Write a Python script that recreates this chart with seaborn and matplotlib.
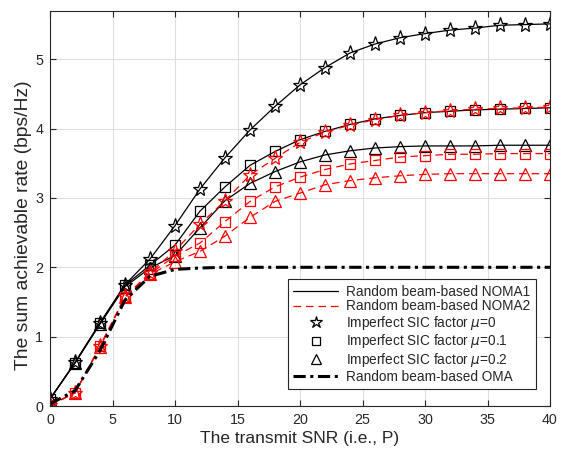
import matplotlib
matplotlib.use("Agg")
import numpy as np
import pandas as pd
import matplotlib.pyplot as plt
import seaborn as sns
from matplotlib.lines import Line2D

# transmit SNR grid
snr = [0, 2, 4, 6, 8, 10, 12, 14, 16, 18, 20, 22, 24, 26, 28, 30, 32, 34, 36, 38, 40]

# Random beam-based NOMA1 (black, solid)
noma1_mu0 = [0.10, 0.63, 1.20, 1.75, 2.12, 2.60, 3.13, 3.58, 3.98, 4.32, 4.63,
             4.88, 5.09, 5.22, 5.31, 5.37, 5.42, 5.45, 5.49, 5.50, 5.51]
noma1_mu01 = [0.10, 0.62, 1.19, 1.74, 2.03, 2.32, 2.81, 3.16, 3.47, 3.67, 3.84,
              3.96, 4.06, 4.14, 4.19, 4.23, 4.25, 4.27, 4.28, 4.29, 4.30]
noma1_mu02 = [0.10, 0.62, 1.18, 1.72, 1.99, 2.17, 2.57, 2.96, 3.21, 3.38, 3.52,
              3.62, 3.68, 3.72, 3.74, 3.75, 3.75, 3.75, 3.76, 3.76, 3.76]

# Random beam-based NOMA2 (red, dashed)
noma2_mu0 = [0.01, 0.19, 0.86, 1.58, 1.92, 2.24, 2.62, 2.96, 3.33, 3.57, 3.80,
             3.95, 4.05, 4.13, 4.19, 4.23, 4.26, 4.28, 4.29, 4.30, 4.31]
noma2_mu01 = [0.01, 0.19, 0.86, 1.57, 1.91, 2.16, 2.35, 2.66, 2.95, 3.16, 3.30,
              3.41, 3.49, 3.54, 3.59, 3.61, 3.63, 3.63, 3.64, 3.64, 3.64]
noma2_mu02 = [0.01, 0.19, 0.85, 1.57, 1.90, 2.08, 2.23, 2.45, 2.72, 2.95, 3.07,
              3.19, 3.25, 3.29, 3.32, 3.34, 3.35, 3.35, 3.35, 3.35, 3.35]

# Random beam-based OMA
oma = [0.03, 0.22, 0.80, 1.53, 1.87, 1.97, 1.99, 2.00, 2.00, 2.00, 2.00,
       2.00, 2.00, 2.00, 2.00, 2.00, 2.00, 2.00, 2.00, 2.00, 2.00]

sns.set_theme(style="ticks")
plt.rcParams['font.family'] = ['Liberation Sans', 'DejaVu Sans']
plt.rcParams['mathtext.fontset'] = 'dejavusans'

fig = plt.figure(figsize=(5.66, 4.55), dpi=100)
ax = fig.add_axes([50 / 566, 49 / 455, 500 / 566, 395.3 / 455])

series = [
    (noma1_mu0, 'black', '*', 11, '-'),
    (noma1_mu01, 'black', 's', 7.5, '-'),
    (noma1_mu02, 'black', '^', 9, '-'),
    (noma2_mu0, 'red', '*', 11, '--'),
    (noma2_mu01, 'red', 's', 7.5, '--'),
    (noma2_mu02, 'red', '^', 9, '--'),
]
for vals, col, mk, ms, ls in series:
    df = pd.DataFrame({'snr': snr, 'rate': vals})
    line_kw = dict(dashes=(6, 4)) if ls == '--' else {}
    sns.lineplot(data=df, x='snr', y='rate', ax=ax, color=col, linewidth=0.9,
                 marker=mk, markersize=ms, markerfacecolor='none',
                 markeredgecolor=col, markeredgewidth=0.9, **line_kw)

df_oma = pd.DataFrame({'snr': snr, 'rate': oma})
sns.lineplot(data=df_oma, x='snr', y='rate', ax=ax, color='black',
             linewidth=2.2, dashes=(4, 1.5, 1, 1.5))

ax.set_xlim(0, 40)
ax.set_ylim(0, 5.7)
ax.set_xticks(np.arange(0, 41, 5))
ax.set_yticks(np.arange(0, 6, 1))
ax.grid(True, color='#dedede', linewidth=0.8)
ax.set_axisbelow(True)
ax.tick_params(direction='in', top=True, right=True, length=4, width=0.8,
               colors='#262626', labelsize=10.3, pad=5)
for sp in ax.spines.values():
    sp.set_color('#262626')
    sp.set_linewidth(0.8)

ax.set_xlabel('The transmit SNR (i.e., P)', fontsize=12.5, color='#262626', labelpad=3)
ax.set_ylabel('The sum achievable rate (bps/Hz)', fontsize=13.9, color='#262626')
ax.yaxis.set_label_coords(-0.036, 0.458)
ax.yaxis.label.set_verticalalignment('bottom')

handles = [
    Line2D([], [], color='black', linewidth=0.9),
    Line2D([], [], color='red', linewidth=0.9, dashes=(6, 4)),
    Line2D([], [], color='black', linestyle='none', marker='*', markersize=9,
           markerfacecolor='none', markeredgewidth=0.9),
    Line2D([], [], color='black', linestyle='none', marker='s', markersize=6,
           markerfacecolor='none', markeredgewidth=0.9),
    Line2D([], [], color='black', linestyle='none', marker='^', markersize=7.5,
           markerfacecolor='none', markeredgewidth=0.9),
    Line2D([], [], color='black', linewidth=2.2, dashes=(4, 1.5, 1, 1.5)),
]
labels = [
    'Random beam-based NOMA1',
    'Random beam-based NOMA2',
    r'Imperfect SIC factor $\mu$=0',
    r'Imperfect SIC factor $\mu$=0.1',
    r'Imperfect SIC factor $\mu$=0.2',
    'Random beam-based OMA',
]
leg = ax.legend(handles, labels, loc='lower right', bbox_to_anchor=(0.972, 0.043),
                borderaxespad=0, fontsize=9.8, frameon=True, fancybox=False,
                framealpha=1, edgecolor='#262626', handlelength=3.3,
                handletextpad=0.6, labelspacing=0.04, borderpad=0.4)
leg.get_frame().set_linewidth(0.8)

fig.savefig('out.png', dpi=100)
